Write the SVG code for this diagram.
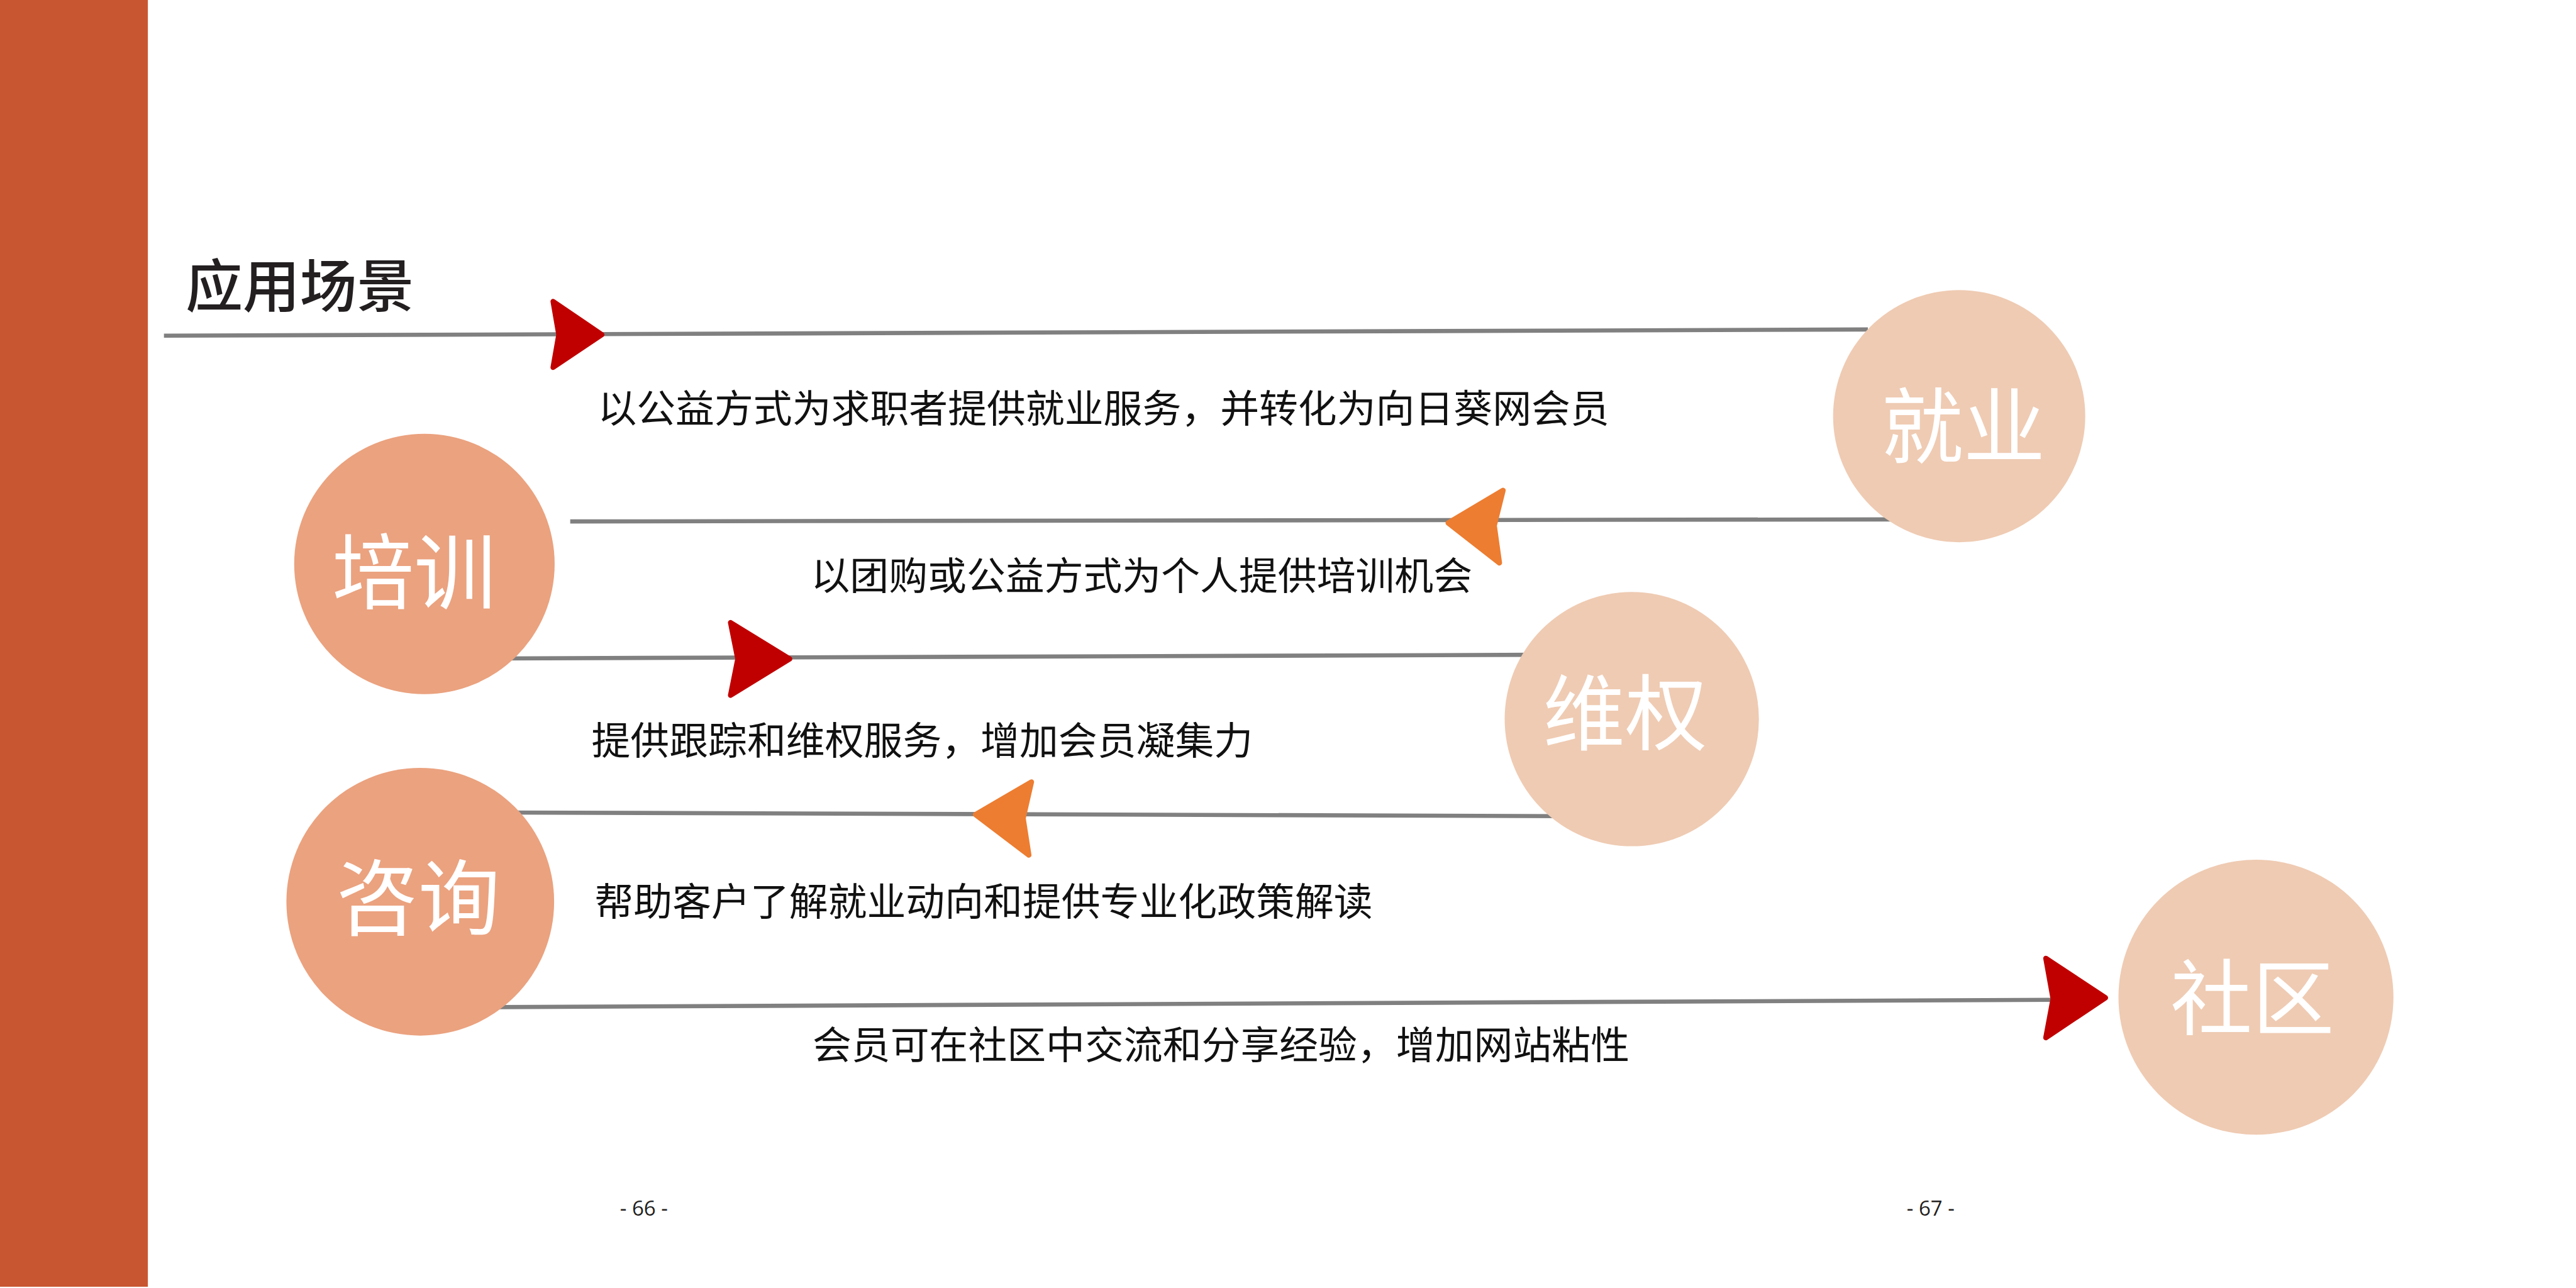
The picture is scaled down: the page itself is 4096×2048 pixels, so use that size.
<svg xmlns="http://www.w3.org/2000/svg" width="4096" height="2048" viewBox="0 0 4096 2048">
<style>
.line{stroke:#808080;stroke-width:8;fill:none}
.red{fill:#C00000;stroke:#C00000;stroke-width:10;stroke-linejoin:round}
.orange{fill:#ED7D31;stroke:#ED7D31;stroke-width:10;stroke-linejoin:round}
.dark{fill:#EBA27F}
.light{fill:#EFCBB3}
.ctext{font-family:"Noto Sans CJK SC",sans-serif;font-size:158px;fill:#FFFFFF;text-anchor:middle}
.body{font-family:"Noto Sans CJK SC",sans-serif;font-size:75px;fill:#111111}
.page{font-family:"Open Sans","Liberation Sans",sans-serif;font-size:40px;fill:#231F20;text-anchor:middle}
</style>
<rect width="4096" height="2048" fill="#FFFFFF"/>
<g transform="scale(0.825)">
<rect id="sidebar" x="0" y="0" width="285" height="2480" fill="#C85630"/>
<text id="title" x="358" y="592" font-family="Noto Sans CJK SC, sans-serif" font-size="110" font-weight="500" fill="#231F20">应用场景</text>
<g id="connectors">
<line class="line" x1="316" y1="647" x2="3600" y2="635"/>
<line class="line" x1="1099" y1="1005" x2="3660" y2="1001"/>
<line class="line" x1="960" y1="1269" x2="2960" y2="1262"/>
<line class="line" x1="980" y1="1566" x2="3010" y2="1573"/>
<line class="line" x1="960" y1="1941" x2="3960" y2="1927"/>
<path class="red" d="M1066,581 L1160,645 L1066,708 L1077,645 Z"/>
<path class="red" d="M1408,1200 L1522,1270 L1408,1340 L1422,1270 Z"/>
<path class="red" d="M3943,1847 L4058,1923 L3943,2000 L3957,1925 Z"/>
<path class="orange" d="M2791,1008 L2897,945 L2880,1013 L2890,1085 Z"/>
<path class="orange" d="M1880,1570 L1988,1507 L1972,1577 L1983,1648 Z"/>
</g>
<g id="node-jiuye">
<circle class="light" cx="3776" cy="802" r="243"/>
<text class="ctext" x="3784" y="880">就业</text>
</g>
<g id="node-peixun">
<circle class="dark" cx="818" cy="1087" r="251"/>
<text class="ctext" x="798" y="1161">培训</text>
</g>
<g id="node-weiquan">
<circle class="light" cx="3145" cy="1386" r="245"/>
<text class="ctext" x="3132" y="1433">维权</text>
</g>
<g id="node-zixun">
<circle class="dark" cx="810" cy="1738" r="258"/>
<text class="ctext" x="806" y="1789">咨询</text>
</g>
<g id="node-shequ">
<circle class="light" cx="4348" cy="1922" r="265"/>
<text class="ctext" x="4341" y="1982">社区</text>
</g>
<g id="labels">
<text class="body" x="1152" y="814">以公益方式为求职者提供就业服务，并转化为向日葵网会员</text>
<text class="body" x="1563" y="1137">以团购或公益方式为个人提供培训机会</text>
<text class="body" x="1140" y="1454">提供跟踪和维权服务，增加会员凝集力</text>
<text class="body" x="1146" y="1765">帮助客户了解就业动向和提供专业化政策解读</text>
<text class="body" x="1566" y="2041">会员可在社区中交流和分享经验，增加网站粘性</text>
</g>
<text class="page" x="1241" y="2343">- 66 -</text>
<text class="page" x="3721" y="2343">- 67 -</text>
</g>
</svg>
